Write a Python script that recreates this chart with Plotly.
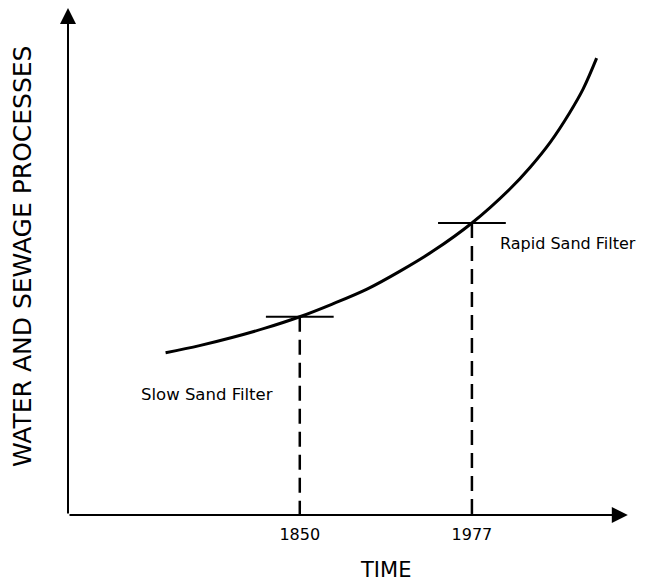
import plotly.graph_objects as go

# Conceptual growth curve (x in years, y in arbitrary units 0-100)
curve_years = [1751, 1776, 1800, 1825, 1850, 1874, 1900, 1924, 1948, 1977, 2005, 2020, 2035, 2049, 2059, 2069]
curve_values = [32.0, 33.4, 35.0, 36.9, 39.1, 41.6, 44.6, 48.1, 52.0, 57.6, 64.3, 68.6, 73.6, 79.3, 84.0, 90.1]

milestone_years = [1850, 1977]
milestone_values = [39.1, 57.6]
milestone_labels = ["Slow Sand Filter", "Rapid Sand Filter"]
tick_labels = ["1850", "1977"]

x_title = "TIME"
y_title = "WATER AND SEWAGE PROCESSES"

X_MIN, X_MAX = 1679, 2101
ARROW_X = 2092
Y_MIN, Y_MAX = 0, 100
half_tick = 25  # half-width of marker bar, years

FONT = "DejaVu Sans"
W, H = 655, 585
ML, MR, MT, MB = 68, 15, 8, 70
PW, PH = W - ML - MR, H - MT - MB


def px_to_paper(px, py):
    return (px - ML) / PW, (H - MB - py) / PH


fig = go.Figure()

fig.add_trace(go.Scatter(x=curve_years, y=curve_values, mode="lines",
                         line=dict(color="black", width=3, shape="spline", smoothing=1.0),
                         hoverinfo="skip", showlegend=False))

for yr, val in zip(milestone_years, milestone_values):
    fig.add_trace(go.Scatter(x=[yr, yr], y=[val, Y_MIN], mode="lines",
                             line=dict(color="black", width=2.5, dash="15px,8px"),
                             hoverinfo="skip", showlegend=False))
    fig.add_trace(go.Scatter(x=[yr - half_tick, yr + half_tick], y=[val, val], mode="lines",
                             line=dict(color="black", width=2),
                             hoverinfo="skip", showlegend=False))

# axes with arrows
fig.add_annotation(x=ARROW_X, y=Y_MIN, ax=X_MIN, ay=Y_MIN, xref="x", yref="y",
                   axref="x", ayref="y", showarrow=True, arrowhead=2, arrowsize=1.6,
                   arrowwidth=2, arrowcolor="black", text="")
fig.add_annotation(x=X_MIN, y=Y_MAX, ax=X_MIN, ay=Y_MIN, xref="x", yref="y",
                   axref="x", ayref="y", showarrow=True, arrowhead=2, arrowsize=1.6,
                   arrowwidth=2, arrowcolor="black", text="")

# milestone labels
sx, sy = px_to_paper(275, 394)
fig.add_annotation(x=sx, y=sy, xref="paper", yref="paper", text=milestone_labels[0],
                   showarrow=False, xanchor="right", yanchor="middle",
                   font=dict(family=FONT, size=16.5, color="black"))
rx, ry = px_to_paper(498, 243)
fig.add_annotation(x=rx, y=ry, xref="paper", yref="paper", text=milestone_labels[1],
                   showarrow=False, xanchor="left", yanchor="middle",
                   font=dict(family=FONT, size=16, color="black"))

# axis titles
tx, ty = px_to_paper(385, 570)
fig.add_annotation(x=tx, y=ty, xref="paper", yref="paper", text=x_title, showarrow=False,
                   xanchor="center", yanchor="middle",
                   font=dict(family=FONT, size=21, color="black"))
yx, yy = px_to_paper(22, 257)
fig.add_annotation(x=yx, y=yy, xref="paper", yref="paper", text=y_title, showarrow=False,
                   xanchor="center", yanchor="middle", textangle=-90,
                   font=dict(family=FONT, size=25, color="black"))

fig.update_xaxes(range=[X_MIN, X_MAX], showgrid=False, zeroline=False, showline=False,
                 tickvals=milestone_years, ticktext=tick_labels, ticks="", automargin=False,
                 ticklabelstandoff=8,
                 tickfont=dict(family=FONT, size=16, color="black"))
fig.update_yaxes(range=[Y_MIN, Y_MAX], showgrid=False, zeroline=False, showline=False,
                 showticklabels=False, ticks="", automargin=False)

fig.update_layout(width=W, height=H, margin=dict(l=ML, r=MR, t=MT, b=MB),
                  plot_bgcolor="white", paper_bgcolor="white", showlegend=False)

fig.write_html("out.html", config={"displayModeBar": False},
               post_script="document.body.style.margin='0';document.body.style.overflow='hidden';")
